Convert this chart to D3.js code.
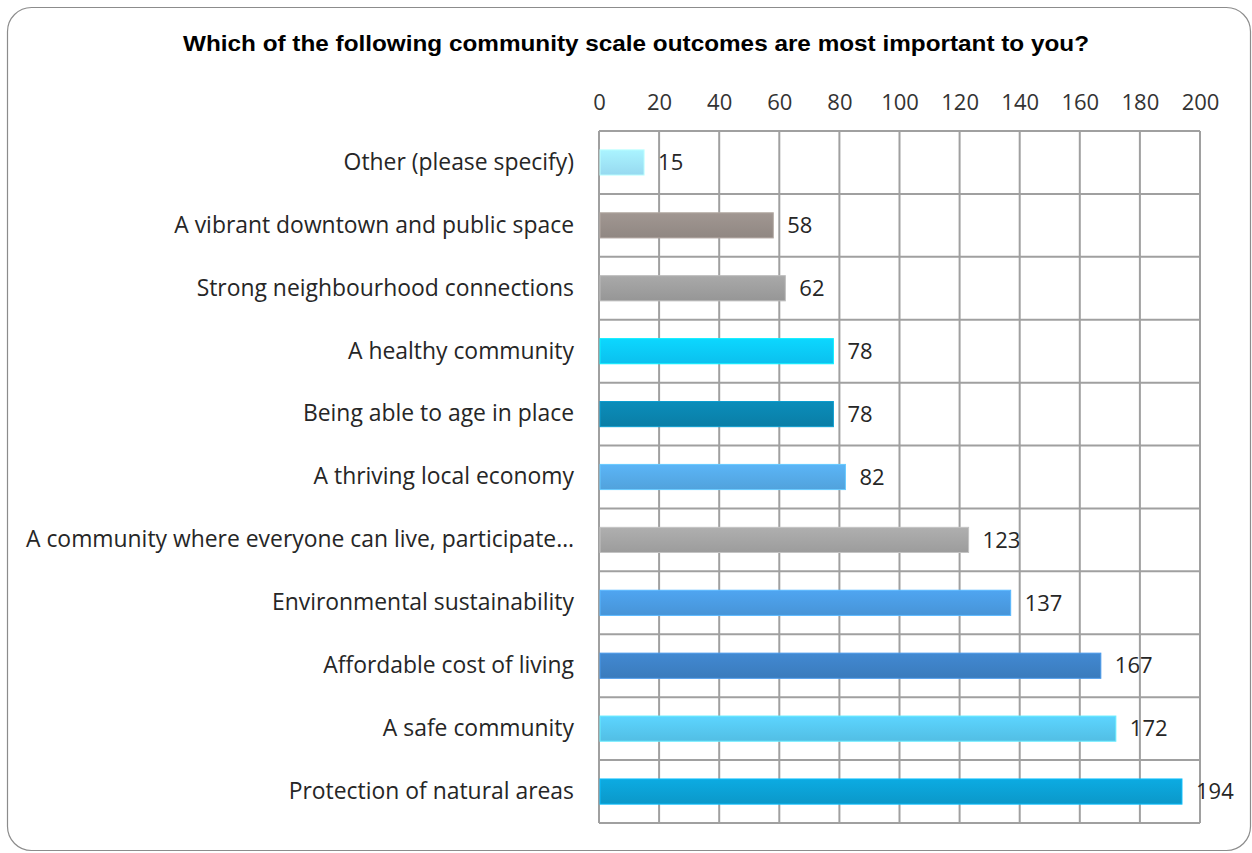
<!DOCTYPE html>
<html>
<head>
<meta charset="utf-8">
<script src="https://cdn.jsdelivr.net/npm/d3@7"></script>
<style>
  html, body { margin: 0; padding: 0; background: #fff; }
  svg { display: block; }
</style>
</head>
<body>
<svg id="chart" width="1252" height="853"></svg>
<script>
// Survey responses, top to bottom
const categories = [
  "Other (please specify)",
  "A vibrant downtown and public space",
  "Strong neighbourhood connections",
  "A healthy community",
  "Being able to age in place",
  "A thriving local economy",
  "A community where everyone can live, participate…",
  "Environmental sustainability",
  "Affordable cost of living",
  "A safe community",
  "Protection of natural areas"
];
const values = [15, 58, 62, 78, 78, 82, 123, 137, 167, 172, 194];
const barColors = [
  "#9ee3fb", "#968d88", "#9d9d9d", "#0bc8f8", "#0a83ad", "#55a9e6",
  "#a3a3a3", "#4a9ae0", "#3d80c4", "#56c6ee", "#0b9fd2"
];
const tickValues = [0, 20, 40, 60, 80, 100, 120, 140, 160, 180, 200];
const title = "Which of the following community scale outcomes are most important to you?";

const svg = d3.select("#chart");
const labelFont = "'Open Sans', 'Noto Sans', sans-serif";

// Rounded frame around the whole chart
svg.append("rect")
  .attr("x", 7.5).attr("y", 7.5)
  .attr("width", 1243).attr("height", 843)
  .attr("rx", 24).attr("ry", 24)
  .attr("fill", "#fff")
  .attr("stroke", "#8c8c8c")
  .attr("stroke-width", 1.2);

svg.append("text")
  .attr("x", 636).attr("y", 51)
  .attr("text-anchor", "middle")
  .attr("font-family", "'Liberation Sans', Arial, sans-serif")
  .attr("font-weight", "bold")
  .attr("font-size", 21.5)
  .attr("textLength", 906)
  .attr("lengthAdjust", "spacingAndGlyphs")
  .attr("fill", "#000")
  .text(title);

const plot = { left: 599, right: 1200, top: 131, bottom: 823 };

const x = d3.scaleLinear().domain([0, 200]).range([plot.left, plot.right]);
const y = d3.scaleBand().domain(categories).range([plot.top, plot.bottom]).paddingInner(0.6).paddingOuter(0.3);
const yRow = d3.scaleBand().domain(categories).range([plot.top, plot.bottom]);

// Gradients: slightly lighter at the top edge of each bar
const defs = svg.append("defs");
barColors.forEach((c, i) => {
  const g = defs.append("linearGradient")
    .attr("id", "bar-grad-" + i)
    .attr("x1", 0).attr("y1", 0).attr("x2", 0).attr("y2", 1);
  g.append("stop").attr("offset", "0%").attr("stop-color", d3.color(c).brighter(0.2));
  g.append("stop").attr("offset", "100%").attr("stop-color", d3.color(c).darker(0.12));
});

// Grid
const grid = svg.append("g").attr("stroke", "#a0a0a0").attr("stroke-width", 2).attr("fill", "none");
grid.selectAll("line.v").data(tickValues).join("line")
  .attr("class", "v")
  .attr("x1", d => x(d)).attr("x2", d => x(d))
  .attr("y1", plot.top).attr("y2", plot.bottom);
const rowEdges = categories.map(c => yRow(c)).concat([plot.bottom]);
grid.selectAll("line.h").data(rowEdges).join("line")
  .attr("class", "h")
  .attr("x1", plot.left).attr("x2", plot.right)
  .attr("y1", d => d).attr("y2", d => d);

// Top axis labels
const axis = svg.append("g")
  .attr("transform", `translate(0, ${plot.top - 21})`)
  .call(d3.axisTop(x).tickValues(tickValues).tickSize(0).tickPadding(0));
axis.select(".domain").remove();
axis.selectAll("text")
  .attr("font-family", labelFont)
  .attr("font-size", 22)
  .attr("fill", "#333");

// Category labels
const cat = svg.append("g")
  .attr("transform", `translate(${plot.left - 25}, 0)`)
  .call(d3.axisLeft(y).tickSize(0).tickPadding(0));
cat.select(".domain").remove();
cat.selectAll("text")
  .attr("font-family", labelFont)
  .attr("font-size", 22.9)
  .attr("fill", "#262626");

// Bars
svg.append("g").selectAll("rect").data(values).join("rect")
  .attr("x", x(0) + 1)
  .attr("y", (d, i) => y(categories[i]))
  .attr("width", d => x(d) - x(0) - 1)
  .attr("height", y.bandwidth())
  .attr("fill", (d, i) => `url(#bar-grad-${i})`)
  .attr("stroke", (d, i) => d3.color(barColors[i]).brighter(0.5))
  .attr("stroke-width", 1);

// Value labels
svg.append("g").selectAll("text").data(values).join("text")
  .attr("x", d => x(d) + 14)
  .attr("y", (d, i) => y(categories[i]) + y.bandwidth() / 2)
  .attr("dy", "0.35em")
  .attr("font-family", labelFont)
  .attr("font-size", 22)
  .attr("fill", "#262626")
  .text(d => d);
</script>
</body>
</html>
